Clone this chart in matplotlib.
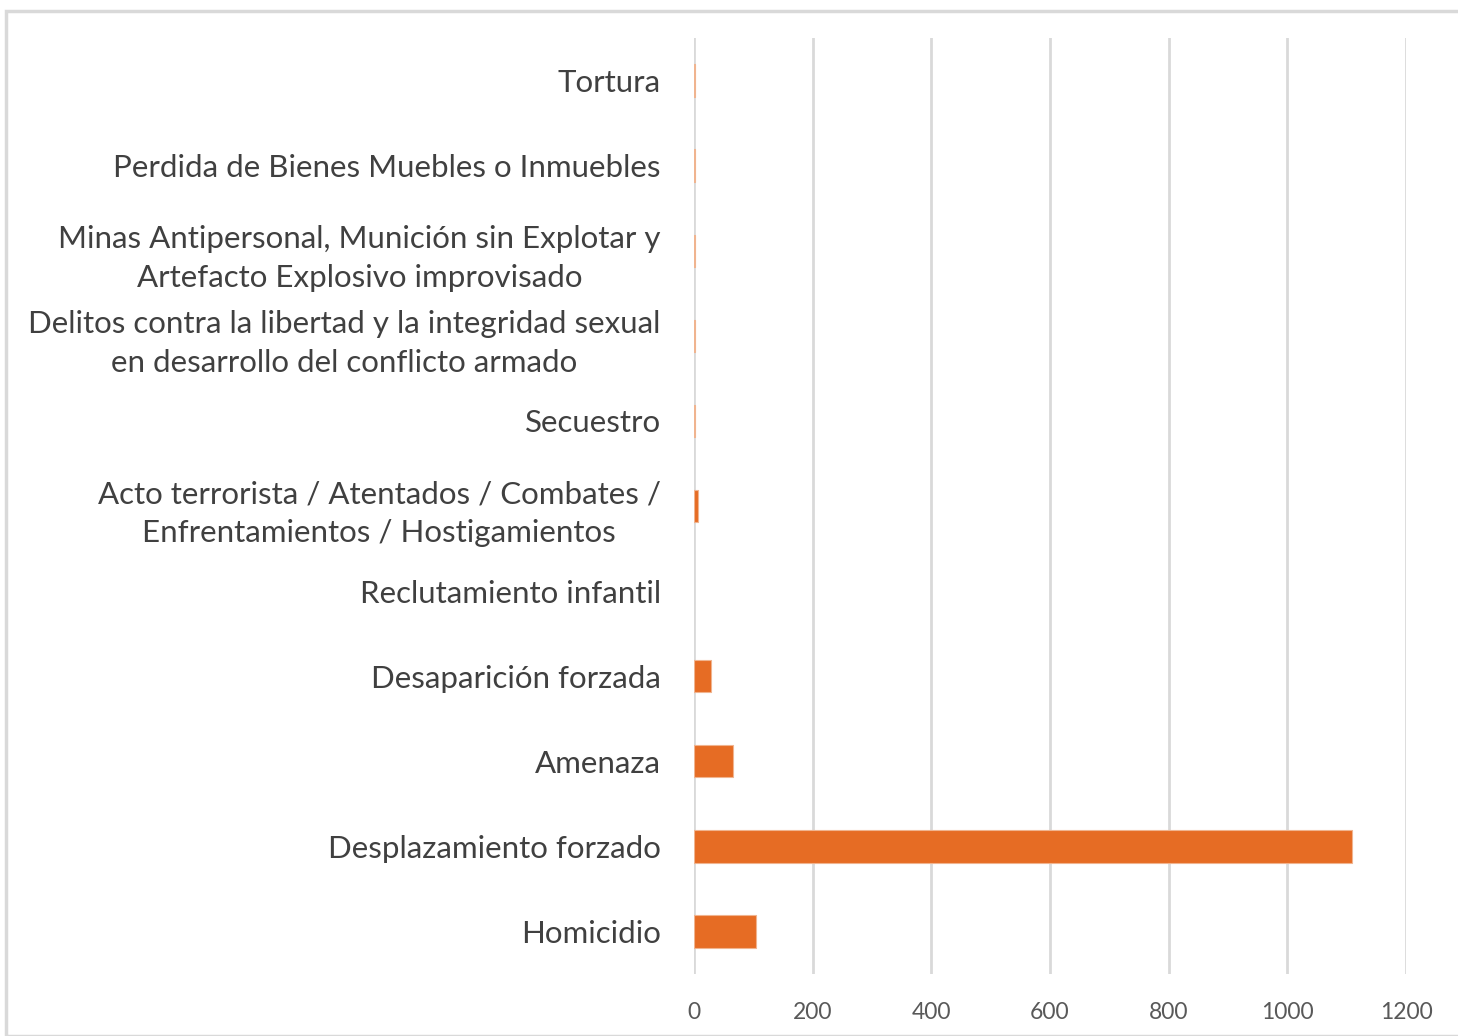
import matplotlib
matplotlib.use("Agg")
import matplotlib.pyplot as plt
from matplotlib.patches import Rectangle

categories = [
    "Homicidio",
    "Desplazamiento forzado",
    "Amenaza",
    "Desaparición forzada",
    "Reclutamiento infantil",
    "Acto terrorista / Atentados / Combates /\nEnfrentamientos / Hostigamientos",
    "Secuestro",
    "Delitos contra la libertad y la integridad sexual\nen desarrollo del conflicto armado",
    "Minas Antipersonal, Munición sin Explotar y\nArtefacto Explosivo improvisado",
    "Perdida de Bienes Muebles o Inmuebles",
    "Tortura",
]
values = [104, 1109, 66, 29, 0, 7, 1, 1, 1, 1, 1]
xticks = [0, 200, 400, 600, 800, 1000, 1200]

plt.rcParams['font.family'] = ['Lato', 'DejaVu Sans']

fig = plt.figure(figsize=(14.58, 10.36), dpi=100)
W, H = 1458, 1036
ax = fig.add_axes([694 / W, 1 - 974 / H, (1406 - 694) / W, (974 - 38) / H])

pos = list(range(len(categories)))
edges = ['#F0B48F' if v > 0 else 'none' for v in values]
ax.barh(pos, values, height=0.38, color='#E66C24', edgecolor=edges, linewidth=0.8, zorder=3)

ax.set_xlim(0, 1200)
ax.set_ylim(-0.5, 10.5)
ax.set_xticks(xticks)
ax.set_xticklabels([str(t) for t in xticks], fontsize=16.5, color='#595959')
ax.set_yticks(pos)
ax.set_yticklabels(categories, fontsize=22.5, color='#404040')
for lab in ax.get_yticklabels():
    lab.set_multialignment('center')
    lab.set_linespacing(1.45)
ax.tick_params(axis='y', length=0, pad=24)
ax.tick_params(axis='x', length=0, pad=20)
ax.grid(axis='x', color='#D9D9D9', linewidth=2, zorder=0)
for s in ax.spines.values():
    s.set_visible(False)

fig.patches.append(Rectangle((6 / W, 0), 1.0, 1 - 11 / H, transform=fig.transFigure,
                             fill=False, edgecolor='#D9D9D9', linewidth=2.5))

fig.savefig("out.png", dpi=100)
